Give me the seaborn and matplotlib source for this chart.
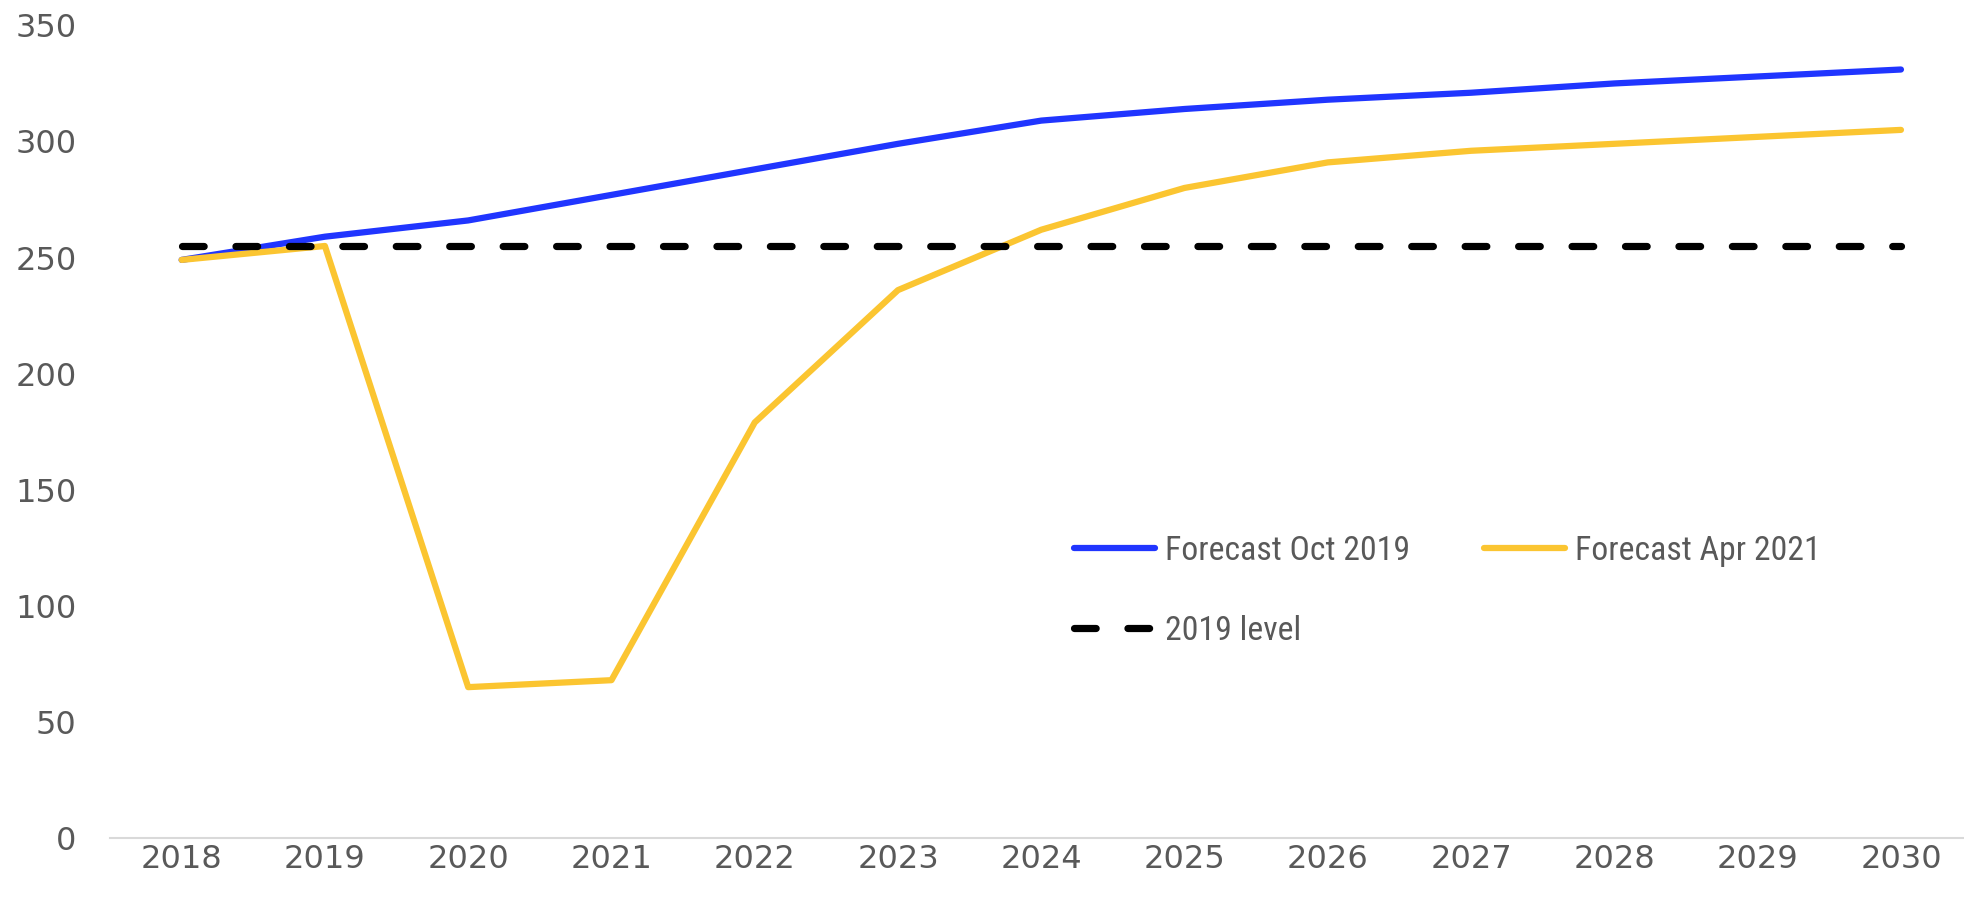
import pandas as pd
import seaborn as sns
import matplotlib.pyplot as plt
import matplotlib.font_manager as fm

# data
years = list(range(2018, 2031))
forecast_oct_2019 = [249, 259, 266, 277, 288, 299, 309, 314, 318, 321, 325, 328, 331]
forecast_apr_2021 = [249, 255, 65, 68, 179, 236, 262, 280, 291, 296, 299, 302, 305]
level_2019 = 255

labels = ['Forecast Oct 2019', 'Forecast Apr 2021', '2019 level']
colors = ['#2035FF', '#FBC531', '#000000']

df = pd.DataFrame({
    'year': years * 2,
    'value': forecast_oct_2019 + forecast_apr_2021,
    'series': [labels[0]] * len(years) + [labels[1]] * len(years),
})
df_level = pd.DataFrame({'year': years, 'value': [level_2019] * len(years)})

sns.set_style('white')
plt.rcParams['font.family'] = ['DejaVu Sans']

# narrow font for the legend if there is one
installed = {f.name for f in fm.fontManager.ttflist}
narrow = [n for n in ['Roboto Condensed', 'Liberation Sans Narrow', 'Open Sans Condensed']
          if n in installed]
if narrow:
    leg_font = {'family': [narrow[0], 'DejaVu Sans'], 'size': 24.3}
else:
    leg_font = {'family': ['Roboto', 'DejaVu Sans'], 'size': 19}

fig = plt.figure(figsize=(19.64, 9.07), dpi=100)
ax = fig.add_axes([0.056, 0.076, 0.944, 0.896])

sns.lineplot(data=df, x='year', y='value', hue='series',
             palette=colors[:2], linewidth=4.5, ax=ax, legend=False)
sns.lineplot(data=df_level, x='year', y='value', color=colors[2],
             linewidth=5.2, ax=ax, legend=False)
lvl = ax.lines[-1]
lvl.set_dashes([3.0, 4.4])
lvl.set_dash_capstyle('round')

ax.set_xlim(2017.5, 2030.44)
ax.set_ylim(0, 350)
ax.set_xticks(years)
ax.set_yticks(range(0, 351, 50))
ax.set_xlabel('')
ax.set_ylabel('')
ax.tick_params(axis='both', length=0, labelsize=23, colors='#595959')
ax.tick_params(axis='y', pad=24)
ax.tick_params(axis='x', pad=4)

for s in ['top', 'right', 'left']:
    ax.spines[s].set_visible(False)
ax.spines['bottom'].set_color('#D9D9D9')
ax.spines['bottom'].set_linewidth(1.5)

handles = [ax.lines[0], ax.lines[2], ax.lines[1]]
leg_labels = [labels[0], labels[2], labels[1]]
leg = fig.legend(handles, leg_labels, ncol=2, frameon=False,
                 loc='upper left', bbox_to_anchor=(0.5313, 0.444),
                 prop=leg_font,
                 handlelength=2.4, handletextpad=0.3, columnspacing=2.2,
                 labelspacing=1.42)
for t in leg.get_texts():
    t.set_color('#595959')

fig.savefig('out.png', dpi=100)
